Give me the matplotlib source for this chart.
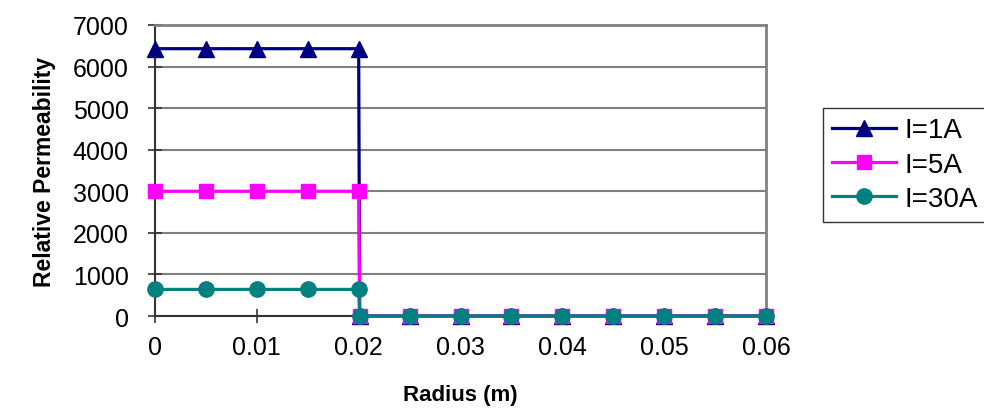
import matplotlib.pyplot as plt
from matplotlib.ticker import MultipleLocator

plt.rcParams['font.family'] = ['Liberation Sans', 'DejaVu Sans']

# radius points: core region then outside region (step at 0.02 m)
radius = [0, 0.005, 0.01, 0.015, 0.02,
          0.0201, 0.025, 0.03, 0.035, 0.04, 0.045, 0.05, 0.055, 0.06]
mu_1A = [6430, 6430, 6430, 6430, 6430,
         1, 1, 1, 1, 1, 1, 1, 1, 1]
mu_5A = [3000, 3000, 3000, 3000, 3000,
         1, 1, 1, 1, 1, 1, 1, 1, 1]
mu_30A = [640, 640, 640, 640, 640,
          1, 1, 1, 1, 1, 1, 1, 1, 1]
labels = ['I=1A', 'I=5A', 'I=30A']
xticks = [0, 0.01, 0.02, 0.03, 0.04, 0.05, 0.06]
xticklabels = ['0', '0.01', '0.02', '0.03', '0.04', '0.05', '0.06']

fig = plt.figure(figsize=(9.84, 4.10), dpi=100)
ax = fig.add_axes([0.1575, 0.2268, 0.6210, 0.7098])

ax.plot(radius, mu_1A, color='#000080', marker='^', markersize=11, linewidth=2.3,
        label=labels[0], clip_on=False, zorder=3)
ax.plot(radius, mu_5A, color='#ff00ff', marker='s', markersize=10, linewidth=2.3,
        label=labels[1], clip_on=False, zorder=4)
ax.plot(radius, mu_30A, color='#008080', marker='o', markersize=11, linewidth=2.3,
        label=labels[2], clip_on=False, zorder=5)

ax.set_xlim(0, 0.06)
ax.set_ylim(0, 7000)
ax.set_xticks(xticks, xticklabels)
ax.yaxis.set_major_locator(MultipleLocator(1000))
ax.grid(axis='y', color='#808080', linewidth=1.5)
ax.set_axisbelow(True)

for s in ['top', 'right']:
    ax.spines[s].set_color('#808080')
    ax.spines[s].set_linewidth(2)
for s in ['left', 'bottom']:
    ax.spines[s].set_color('#333333')
    ax.spines[s].set_linewidth(1.5)

ax.tick_params(direction='inout', length=10, width=1.2, color='#333333', labelsize=18)
ax.tick_params(axis='y', pad=14)
ax.tick_params(axis='x', pad=9)

ax.set_xlabel('Radius (m)', fontsize=16, fontweight='bold', labelpad=18)
ax.set_ylabel('Relative Permeability', fontsize=16.5, fontweight='bold', labelpad=12)

leg = ax.legend(loc='center left', bbox_to_anchor=(1.07, 0.52), fontsize=20,
                frameon=True, fancybox=False, edgecolor='black',
                handlelength=2.3, handletextpad=0.3, borderpad=0.35,
                labelspacing=0.3)
leg.get_frame().set_linewidth(1)

fig.savefig('out.png', dpi=100)
